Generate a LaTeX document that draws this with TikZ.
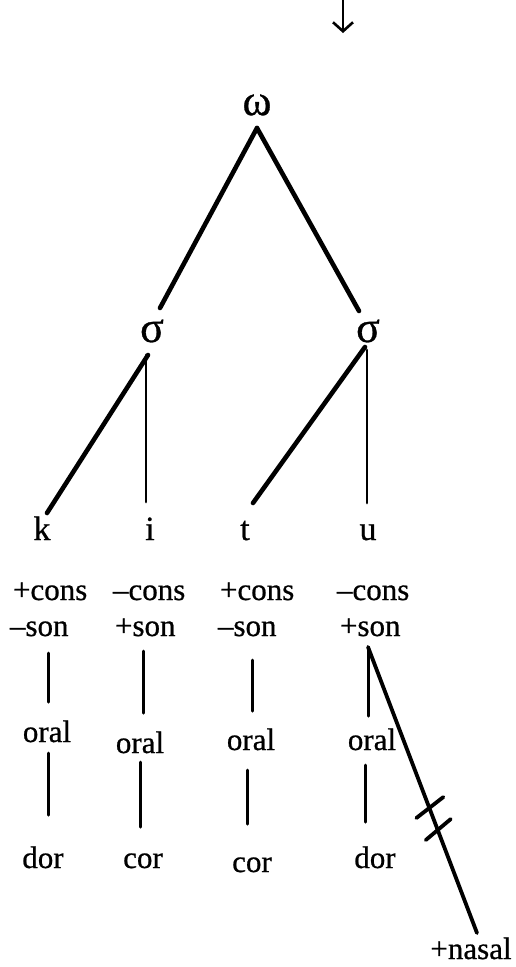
\documentclass[tikz,border=0pt]{standalone}
\usepackage{fontspec}
\setmainfont{Liberation Serif}[FakeBold=0.7]
\usetikzlibrary{calc,arrows.meta}
\begin{document}
\begin{tikzpicture}[x=1pt,y=-1pt,
  every node/.style={inner sep=0pt,outer sep=0pt,font=\fontsize{31}{36}\selectfont},
  greek/.style={font=\fontsize{44}{48}\selectfont},
  letter/.style={anchor=base,font=\fontsize{34}{38}\selectfont},
  seg/.style={anchor=base},
  feat/.style={anchor=base west},
  branch/.style={line width=4.6pt,line cap=round},
  stem/.style={line width=2.8pt,line cap=round},
  assoc/.style={line width=3pt,line cap=round},
  delink/.style={line width=3.8pt,line cap=round}]
\useasboundingbox (0,0) rectangle (515,967);

% derivation arrow
\coordinate (arrtop) at (343,-2);
\coordinate (arrtip) at (343,33);
\draw[line width=2pt,-{Straight Barb[length=9pt,width=20pt,line width=2.6pt]}] (arrtop) -- (arrtip);

% prosodic tree
\node[greek] (om) at (257,105) {ω};
\node[greek] (sL) at (152,331) {σ};
\node[greek] (sR) at (368,331) {σ};
\draw[branch] ($(om)+(0,23)$) -- ($(sL)+(8,-23)$);
\draw[branch] ($(om)+(0,23)$) -- ($(sR)+(-9,-20)$);

% segments
\node[letter] (k) at (42,540) {k};
\node[letter] (i) at (150,540) {i};
\node[letter] (t) at (245,540) {t};
\node[letter] (u) at (368,540) {u};
\draw[branch] ($(sL)+(-4,24)$) -- ($(k.base)+(5,-27)$);
\draw[stem] ($(sL)+(-6,24)$) -- ($(i.base)+(-4,-38)$);
\draw[branch] ($(sR)+(-3,16)$) -- ($(t.base)+(8,-37)$);
\draw[stem] ($(sR)+(-1,19)$) -- ($(u.base)+(-1,-37)$);

% feature bundles
\node[feat] (c1a) at (13,600) {+cons};
\node[feat] (c1b) at (10,636) {--son};
\node[feat] (c2a) at (113,600) {--cons};
\node[feat] (c2b) at (115,636) {+son};
\node[feat] (c3a) at (220,600) {+cons};
\node[feat] (c3b) at (218,636) {--son};
\node[feat] (c4a) at (337,600) {--cons};
\node[feat] (c4b) at (340,636) {+son};

% place and articulator nodes
\node[seg] (o1) at (47,742) {oral};
\node[seg] (o2) at (140,753) {oral};
\node[seg] (o3) at (251,750) {oral};
\node[seg] (o4) at (372,750) {oral};
\node[seg] (d1) at (43,868) {dor};
\node[seg] (d2) at (143,868) {cor};
\node[seg] (d3) at (252,872) {cor};
\node[seg] (d4) at (375,868) {dor};
\node[seg] (nas) at (471,959) {+nasal};

\draw[assoc] ($(c1b.base west)+(38,17)$) -- ($(o1.base)+(1,-40)$);
\draw[assoc] ($(o1.base)+(1,11)$) -- ($(d1.base)+(5,-53)$);
\draw[assoc] ($(c2b.base west)+(28,15)$) -- ($(o2.base)+(3,-40)$);
\draw[assoc] ($(o2.base)+(0,9)$) -- ($(d2.base)+(-3,-41)$);
\draw[assoc] ($(c3b.base west)+(34,24)$) -- ($(o3.base)+(1,-39)$);
\draw[assoc] ($(o3.base)+(-4,20)$) -- ($(d3.base)+(-5,-48)$);
\draw[assoc] ($(c4b.base west)+(28,11)$) -- ($(o4.base)+(-4,-34)$);
\draw[assoc] ($(o4.base)+(-7,15)$) -- ($(d4.base)+(-10,-46)$);

% delinked nasal association
\draw[delink] ($(c4b.base west)+(28,11)$) --
  coordinate[pos=0.563] (cut1) coordinate[pos=0.64] (cut2)
  ($(nas.base)+(6,-26)$);
\draw[delink] ($(cut1)+(-13,10)$) -- ($(cut1)+(14,-11)$);
\draw[delink] ($(cut2)+(-12,10)$) -- ($(cut2)+(13,-11)$);
\end{tikzpicture}
\end{document}
